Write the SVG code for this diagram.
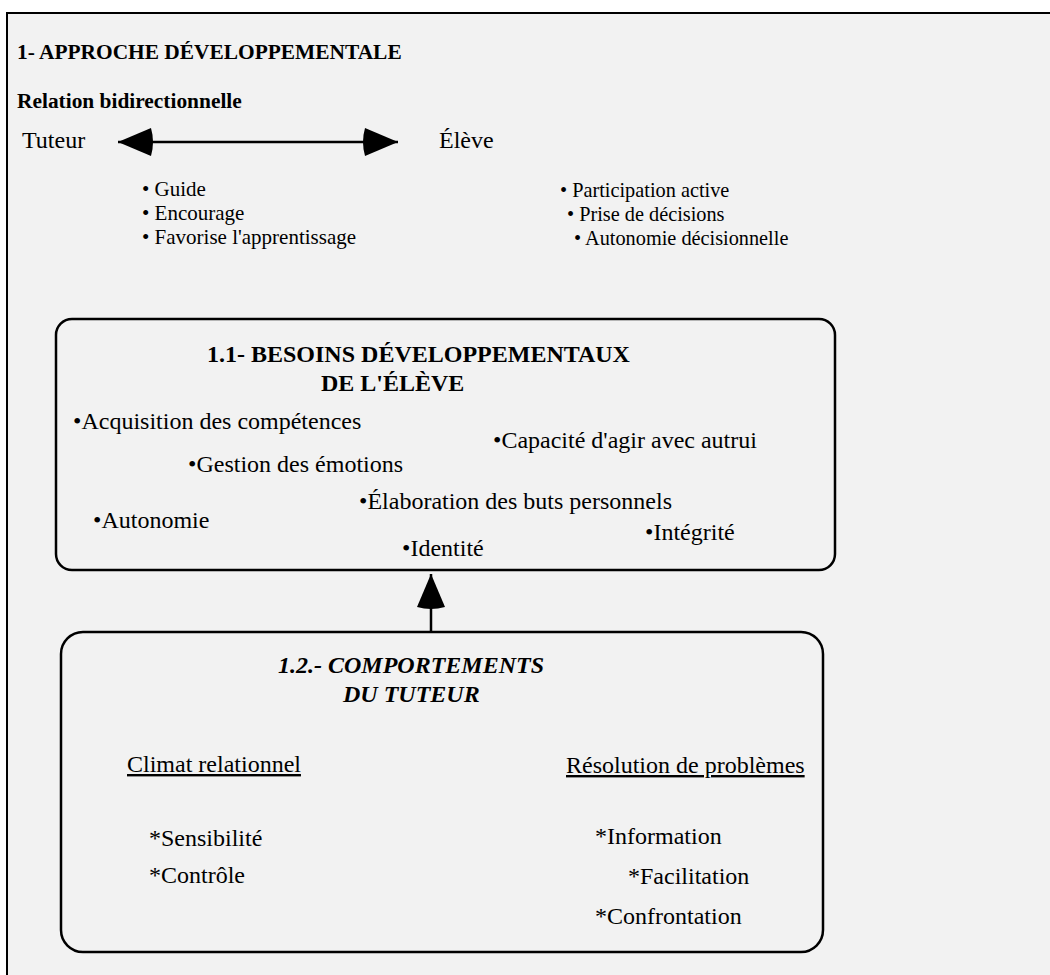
<svg xmlns="http://www.w3.org/2000/svg" width="1050" height="975" viewBox="0 0 1050 975">
<style>
text{font-family:"Liberation Serif","Times New Roman",serif;fill:#000}
.h{font-weight:bold;font-size:21.4px}
.big{font-size:24px}
.li{font-size:21px}
.lr{font-size:20.3px}
.bt{font-weight:bold;font-size:24px}
.bi{font-weight:bold;font-style:italic;font-size:24px}
.it{font-size:24px}
.u{text-decoration:underline}
.box{fill:none;stroke:#000;stroke-width:2.5}
.conn{stroke:#000;stroke-width:2.5;fill:none}
</style>
<defs>
<marker id="ah" markerUnits="userSpaceOnUse" markerWidth="40" markerHeight="30" refX="37" refY="14" orient="auto-start-reverse">
<path d="M4,0 L37,14 L4,28 Q0,14 4,0 Z" fill="#000"/>
</marker>
</defs>
<rect x="0" y="0" width="1050" height="975" fill="#fff"/>
<rect x="7" y="13" width="1043" height="962" fill="#f2f2f2"/>
<path d="M7,975 L7,13 L1050,13" fill="none" stroke="#000" stroke-width="2"/>

<g id="header">
<text class="h" x="17" y="59">1- APPROCHE DÉVELOPPEMENTALE</text>
<text class="h" x="17" y="108">Relation bidirectionnelle</text>
</g>
<g id="tuteur">
<text class="big" x="22" y="148">Tuteur</text>
<text class="li" x="142" y="196">• Guide</text>
<text class="li" x="142" y="220">• Encourage</text>
<text class="li" x="142" y="244">• Favorise l'apprentissage</text>
</g>
<g id="eleve">
<text class="big" x="439" y="148">Élève</text>
<text class="lr" x="560" y="197">• Participation active</text>
<text class="lr" x="567" y="221">• Prise de décisions</text>
<text class="lr" x="574" y="245">• Autonomie décisionnelle</text>
</g>
<g id="besoins">
<rect class="box" x="56" y="319" width="779" height="251" rx="16"/>
<text class="bt" x="207" y="362">1.1- BESOINS DÉVELOPPEMENTAUX</text>
<text class="bt" x="321" y="391">DE L'ÉLÈVE</text>
<text class="it" x="73" y="429">•Acquisition des compétences</text>
<text class="it" x="493" y="448">•Capacité d'agir avec autrui</text>
<text class="it" x="188" y="472">•Gestion des émotions</text>
<text class="it" x="359" y="509">•Élaboration des buts personnels</text>
<text class="it" x="93" y="528">•Autonomie</text>
<text class="it" x="645" y="540">•Intégrité</text>
<text class="it" x="402" y="556">•Identité</text>
</g>
<g id="comportements">
<rect class="box" x="61" y="632" width="762" height="320" rx="22"/>
<text class="bi" x="278" y="673">1.2.- COMPORTEMENTS</text>
<text class="bi" x="343" y="702">DU TUTEUR</text>
<text class="it u" x="127" y="772">Climat relationnel</text>
<text class="it u" x="566" y="773">Résolution de problèmes</text>
<text class="it" x="149" y="846">*Sensibilité</text>
<text class="it" x="149" y="883">*Contrôle</text>
<text class="it" x="595" y="844">*Information</text>
<text class="it" x="628" y="884">*Facilitation</text>
<text class="it" x="595" y="924">*Confrontation</text>
</g>
<g id="connectors">
<line class="conn" x1="118" y1="142" x2="398" y2="142" marker-start="url(#ah)" marker-end="url(#ah)"/>
<line class="conn" x1="431" y1="632" x2="431" y2="574" marker-end="url(#ah)"/>
</g>
</svg>
